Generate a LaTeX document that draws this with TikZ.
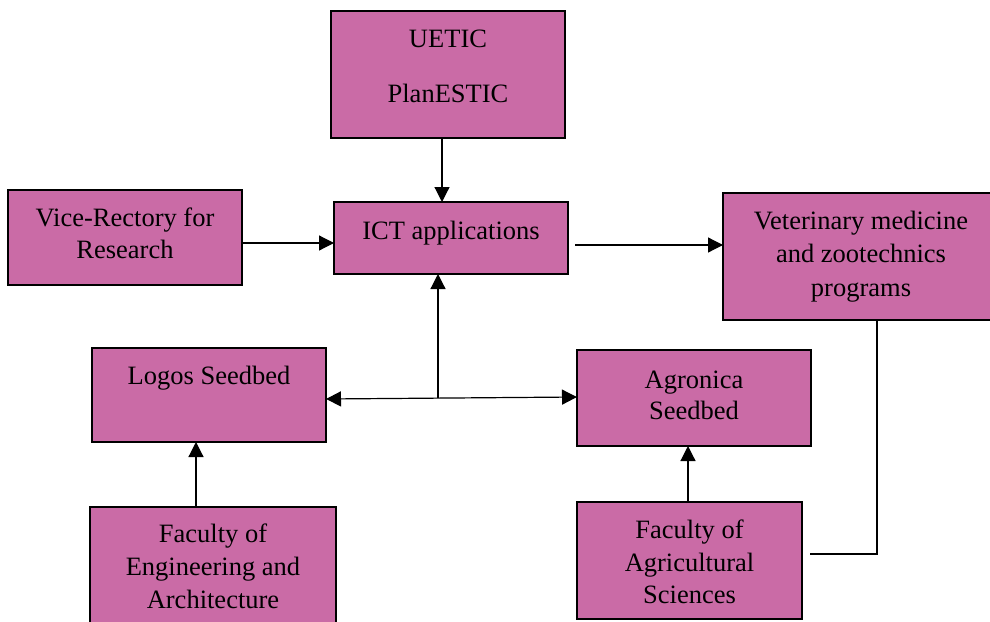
\documentclass[tikz,border=0pt]{standalone}
\usepackage{fontspec}
\setmainfont{Liberation Serif}
\usetikzlibrary{arrows.meta}
\definecolor{boxpink}{RGB}{202,107,166}
\tikzset{
  box/.style={draw=black, line width=1.2pt, fill=boxpink, inner sep=0pt, outer sep=0pt, anchor=north west},
  txt/.style={anchor=base, inner sep=0pt, font=\fontsize{26.5}{33}\selectfont},
  conn/.style={line width=1.2pt, draw=black},
  arr/.style={conn, -{Triangle[length=15pt,width=15pt]}},
  darr/.style={conn, {Triangle[length=15pt,width=15pt]}-{Triangle[length=15pt,width=15pt]}}
}
\begin{document}
\begin{tikzpicture}[x=1pt,y=-1pt]
\useasboundingbox (0,0) rectangle (990,621);
\clip (0,0) rectangle (990,621);
% boxes
\node[box, minimum width=234pt, minimum height=127pt] (uetic) at (331,11) {};
\node[box, minimum width=234pt, minimum height=72pt] (ict) at (334,202) {};
\node[box, minimum width=234pt, minimum height=95pt] (vice) at (8,190) {};
\node[box, minimum width=276pt, minimum height=127pt] (vet) at (723,193) {};
\node[box, minimum width=234pt, minimum height=94pt] (logos) at (92,348) {};
\node[box, minimum width=234pt, minimum height=96pt] (agro) at (577,350) {};
\node[box, minimum width=246pt, minimum height=125pt] (feng) at (90,507) {};
\node[box, minimum width=225pt, minimum height=117pt] (fagr) at (577,502) {};
% texts
\node[txt] (t1) at (448,47) {UETIC};
\node[txt] (t2) at (448,102) {PlanESTIC};
\node[txt] (t3) at (451,239) {ICT applications};
\node[txt] (t4) at (125,226) {Vice-Rectory for};
\node[txt] (t5) at (125,258) {Research};
\node[txt] (t6) at (861,229) {Veterinary medicine};
\node[txt] (t7) at (861,262) {and zootechnics};
\node[txt] (t8) at (861,296) {programs};
\node[txt] (t9) at (209,384) {Logos Seedbed};
\node[txt] (t10) at (694,388) {Agronica};
\node[txt] (t11) at (694,419) {Seedbed};
\node[txt] (t12) at (213,542) {Faculty of};
\node[txt] (t13) at (213,575) {Engineering and};
\node[txt] (t14) at (213,608) {Architecture};
\node[txt] (t15) at (689.5,538) {Faculty of};
\node[txt] (t16) at (689.5,571) {Agricultural};
\node[txt] (t17) at (689.5,603) {Sciences};
% helper coordinates
\coordinate (xa) at (442,0);
\coordinate (xj) at (438,0);
\coordinate (ya) at (0,243);
\coordinate (yb) at (0,245);
\coordinate (yl) at (0,399);
\coordinate (yr) at (0,397);
\coordinate (xe) at (196,0);
\coordinate (xg) at (688,0);
\coordinate (xv) at (877,0);
\coordinate (yv) at (0,554);
\coordinate (j) at (438,398);
% connectors
\draw[arr] (uetic.south -| xa) -- (ict.north -| xa);
\draw[arr] (vice.east |- ya) -- (ict.west |- ya);
\draw[arr, shorten <=7pt] (ict.east |- yb) -- (vet.west |- yb);
\draw[arr] (j) -- (ict.south -| xj);
\draw[darr] (logos.east |- yl) -- (agro.west |- yr);
\draw[arr] (feng.north -| xe) -- (logos.south -| xe);
\draw[arr] (fagr.north -| xg) -- (agro.south -| xg);
\draw[conn, shorten >=8pt] (vet.south -| xv) |- (fagr.east |- yv);
\end{tikzpicture}
\end{document}
